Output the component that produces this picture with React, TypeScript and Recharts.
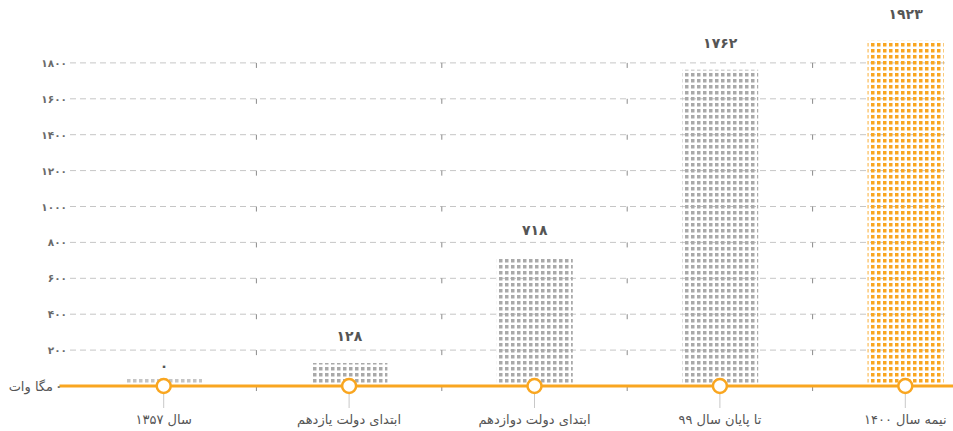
import React from 'react';
import {
  ComposedChart,
  Bar,
  Cell,
  XAxis,
  YAxis,
  CartesianGrid,
  LabelList,
  ReferenceLine,
  ReferenceDot,
} from 'recharts';

// periods on the x axis (left to right as in the picture)
const categories = ['سال ۱۳۵۷', 'ابتدای دولت یازدهم', 'ابتدای دولت دوازدهم', 'تا پایان سال ۹۹', 'نیمه سال ۱۴۰۰'];
// installed capacity, megawatt
const capacity = [0, 128, 718, 1762, 1923];
const yTicks = [0, 200, 400, 600, 800, 1000, 1200, 1400, 1600, 1800];
const Y_MAX = 2000;
const unitLabel = 'مگا وات';

const ORANGE = '#f9a620';
const FONT = '"DejaVu Sans", sans-serif';

const faDigits = '۰۱۲۳۴۵۶۷۸۹';
const toFa = (v: number | string) => String(v).replace(/[0-9]/g, (d) => faDigits[Number(d)]);

const data = categories.map((name, i) => ({ name, capacity: capacity[i] }));

const YTick = ({ y, payload }: any) => {
  const v = payload.value;
  return (
    <g>
      <text x={v === 0 ? 62 : 67} y={y} dy={4} textAnchor="end" fontSize={10.5} fontWeight="bold" fill="#6a6a6a" fontFamily={FONT}>
        {toFa(v)}
      </text>
      {v === 0 && (
        <text x={53} y={y} dy={5} textAnchor="end" fontSize={13} fill="#555" fontFamily={FONT}>
          {unitLabel}
        </text>
      )}
    </g>
  );
};

const XTick = ({ x, y, payload }: any) => (
  <text x={x} y={y} dy={14} textAnchor="middle" fontSize={13} fill="#555" fontFamily={FONT}>
    {payload.value}
  </text>
);

const ValueLabel = ({ x, y, width, value }: any) => (
  <text
    x={x + width / 2}
    y={y - (value === 0 ? 8 : 22)}
    textAnchor="middle"
    fontSize={14}
    fontWeight="bold"
    fill="#555"
    fontFamily={FONT}
  >
    {toFa(value)}
  </text>
);

// grid only on the labelled ticks (not on the top of the domain)
const gridRows = ({ offset }: any) =>
  yTicks.filter((t) => t > 0).map((t) => offset.top + offset.height * (1 - t / Y_MAX));

export default function App() {
  return (
    <div style={{ position: 'absolute', left: 0, top: 0, width: 953, height: 431, background: '#fff', fontFamily: FONT }}>
      <ComposedChart width={953} height={431} data={data} margin={{ top: 27, right: 8, bottom: 0, left: 0 }}>
        <defs>
          <pattern id="dotsGray" width="6" height="6" patternUnits="userSpaceOnUse">
            <rect x="1" y="1" width="3.5" height="3.5" fill="#a9a9a9" />
          </pattern>
          <pattern id="dotsLight" width="6" height="6" patternUnits="userSpaceOnUse">
            <rect x="1" y="1" width="3.5" height="3.5" fill="#c4c4c4" />
          </pattern>
          <pattern id="dotsOrange" width="6" height="6" patternUnits="userSpaceOnUse">
            <rect x="1" y="1" width="3.5" height="3.5" fill={ORANGE} />
          </pattern>
        </defs>
        <CartesianGrid vertical={false} strokeDasharray="6 4" stroke="#c6c6c6" horizontalCoordinatesGenerator={gridRows} />
        <XAxis
          dataKey="name"
          padding={{ left: 1, right: -53 }}
          axisLine={false}
          tickSize={22}
          tickLine={{ stroke: '#c8c8c8' }}
          height={45}
          tick={<XTick />}
          interval={0}
        />
        <XAxis xAxisId="b" type="number" domain={[0, 5]} allowDataOverflow padding={{ left: 1, right: -53 }} hide />
        <YAxis
          width={70}
          domain={[0, Y_MAX]}
          ticks={yTicks}
          interval={0}
          axisLine={false}
          tickLine={false}
          tick={<YTick />}
        />
        <Bar dataKey="capacity" barSize={76} minPointSize={7} isAnimationActive={false}>
          {data.map((d, i) => (
            <Cell
              key={d.name}
              fill={i === 0 ? 'url(#dotsLight)' : i === data.length - 1 ? 'url(#dotsOrange)' : 'url(#dotsGray)'}
            />
          ))}
          <LabelList dataKey="capacity" content={<ValueLabel />} />
        </Bar>
        {/* little marks at the start of every band after the first */}
        {categories.slice(1).map((c) =>
          yTicks.map((t) => (
            <ReferenceLine
              key={`m${c}-${t}`}
              segment={[
                { x: c, y: t },
                { x: c, y: t - 28 },
              ]}
              position="start"
              stroke="#8a8a8a"
              strokeWidth={1}
              ifOverflow="visible"
            />
          ))
        )}
        <ReferenceLine
          xAxisId="b"
          segment={[
            { x: -0.05, y: 0 },
            { x: 4.8, y: 0 },
          ]}
          stroke={ORANGE}
          strokeWidth={3}
          ifOverflow="visible"
        />
        {categories.map((c) => (
          <ReferenceDot key={c} x={c} y={0} r={7} fill="#fff" stroke={ORANGE} strokeWidth={2.5} ifOverflow="visible" />
        ))}
      </ComposedChart>
    </div>
  );
}
